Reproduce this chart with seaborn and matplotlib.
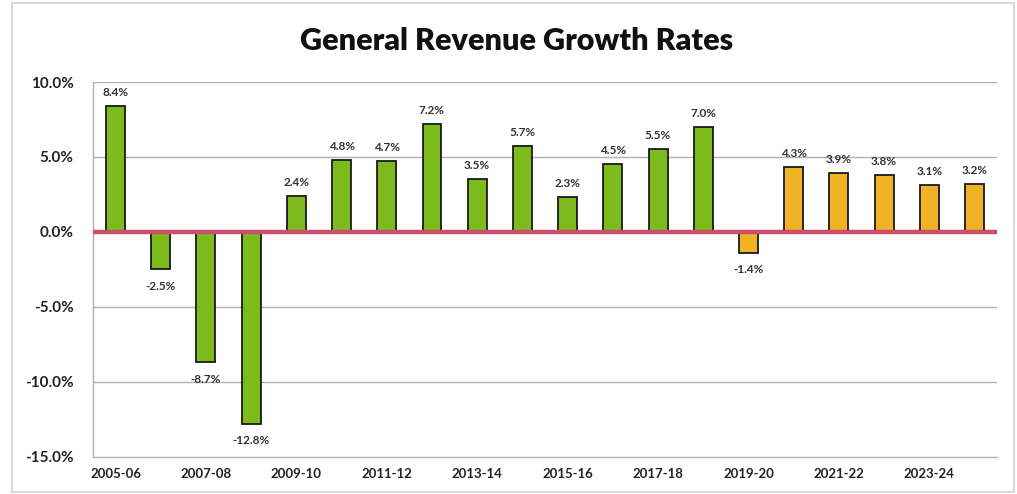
import matplotlib
matplotlib.use("Agg")
import matplotlib.pyplot as plt
from matplotlib.patches import Rectangle
import seaborn as sns
import pandas as pd

years = ["2005-06", "2006-07", "2007-08", "2008-09", "2009-10", "2010-11",
         "2011-12", "2012-13", "2013-14", "2014-15", "2015-16", "2016-17",
         "2017-18", "2018-19", "2019-20", "2020-21", "2021-22", "2022-23",
         "2023-24", "2024-25"]
growth = [8.4, -2.5, -8.7, -12.8, 2.4, 4.8, 4.7, 7.2, 3.5, 5.7, 2.3, 4.5,
          5.5, 7.0, -1.4, 4.3, 3.9, 3.8, 3.1, 3.2]
period = ["Actual"] * 14 + ["Estimate"] * 6
y_ticks = [10, 5, 0, -5, -10, -15]

colors = {"Actual": "#7DBB1C", "Estimate": "#F0B325"}

df = pd.DataFrame({"year": years, "growth": growth, "period": period})

sns.set_theme(style="white")
plt.rcParams["font.family"] = ["Lato", "DejaVu Sans"]

fig = plt.figure(figsize=(10.17, 4.94), dpi=100)
ax = fig.add_axes([0.0914, 0.075, 0.889, 0.759])

sns.barplot(data=df, x="year", y="growth", hue="period", palette=colors,
            saturation=1, dodge=False, width=0.42, edgecolor="#1a1a1a",
            linewidth=1.3, legend=False, ax=ax, zorder=3)

ax.set_ylim(-15, 10)
ax.set_xlim(-0.5, 19.5)
ax.set_yticks(y_ticks)
ax.set_yticklabels([f"{v:.1f}%" for v in y_ticks], fontsize=11,
                   fontweight="bold", color="#222222")
ax.set_xticks(range(0, len(years), 2))
ax.set_xticklabels(years[::2], fontsize=9.5, fontweight="bold",
                   color="#222222")
ax.tick_params(axis="both", length=0)
ax.tick_params(axis="y", pad=14)
ax.tick_params(axis="x", pad=8)
ax.set_xlabel("")
ax.set_ylabel("")

for v in y_ticks:
    if v not in (0, -15):
        ax.axhline(v, color="#B9AAB2", linewidth=1.0, zorder=1)
ax.axhline(0, color="#C9506A", linewidth=3.2, zorder=4)

for s in ["top", "right"]:
    ax.spines[s].set_visible(False)
for s in ["left", "bottom"]:
    ax.spines[s].set_color("#B9AAB2")
    ax.spines[s].set_linewidth(1.0)

for i, v in enumerate(growth):
    if v >= 0:
        ax.annotate(f"{v:.1f}%", (i, v), xytext=(0, 6), textcoords="offset points",
                    ha="center", va="bottom", fontsize=8.5, fontweight="bold",
                    color="#333333")
    else:
        ax.annotate(f"{v:.1f}%", (i, v), xytext=(0, -8), textcoords="offset points",
                    ha="center", va="top", fontsize=8.5, fontweight="bold",
                    color="#333333")

fig.text(0.508, 0.917, "General Revenue Growth Rates", ha="center", va="center",
         fontsize=22, fontweight="heavy", color="#111111")

fig.patches.append(Rectangle((0.012, 0.004), 0.985, 0.99, transform=fig.transFigure,
                             fill=False, edgecolor="#D8CCD2", linewidth=1.2))

fig.savefig("out.png", dpi=100, facecolor="white")
